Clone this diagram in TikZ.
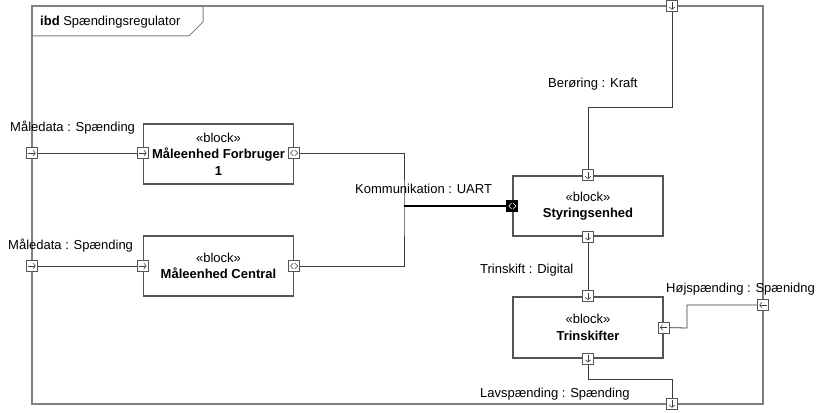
\documentclass[tikz,border=0pt]{standalone}
\usepackage{fontspec}
\setmainfont{Liberation Sans}
\usetikzlibrary{arrows.meta,positioning}
\definecolor{framegray}{HTML}{808080}
\definecolor{linegray}{HTML}{3C3C3C}
\definecolor{boxgray}{HTML}{555555}

\tikzset{
  block/.style={draw=boxgray, line width=1.3pt, fill=white, minimum width=150pt,
    minimum height=60pt, align=center, inner sep=0pt},
  portbox/.style={draw=boxgray, line width=0.8pt, fill=white, minimum size=11pt,
    inner sep=0pt},
  portright/.style={portbox, path picture={\draw[linegray, line width=0.6pt,
    -{Straight Barb[length=2.2pt,width=5.5pt]}]
    ([xshift=1.8pt]path picture bounding box.west) --
    ([xshift=-1.8pt]path picture bounding box.east);}},
  portleft/.style={portbox, path picture={\draw[linegray, line width=0.6pt,
    -{Straight Barb[length=2.2pt,width=5.5pt]}]
    ([xshift=-1.8pt]path picture bounding box.east) --
    ([xshift=1.8pt]path picture bounding box.west);}},
  portdown/.style={portbox, path picture={\draw[linegray, line width=0.6pt,
    -{Straight Barb[length=2.2pt,width=5.5pt]}]
    ([yshift=-1.8pt]path picture bounding box.north) --
    ([yshift=1.8pt]path picture bounding box.south);}},
  portboth/.style={portbox, path picture={\draw[#1, line width=0.6pt]
    ([shift={(-0.8pt,2.8pt)}]path picture bounding box.center) -- ++(-2.8pt,-2.8pt) -- ++(2.8pt,-2.8pt)
    ([shift={(0.8pt,2.8pt)}]path picture bounding box.center) -- ++(2.8pt,-2.8pt) -- ++(-2.8pt,-2.8pt);}},
  portboth/.default=linegray,
  conn/.style={draw=linegray, line width=0.8pt},
  lbl/.style={anchor=base west, inner sep=0pt}
}

\begin{document}
\begin{tikzpicture}[x=1pt,y=-1pt,font=\fontsize{13}{16.5}\selectfont]
\useasboundingbox (0,0) rectangle (824,412);
% frame and its tab
\draw[framegray, line width=1.3pt] (32,6) rectangle (763,404);
\draw[framegray, line width=1pt] (32,36) -- (189,36) -- (203,22) -- (203,6);
\node[lbl] (title) at (40,26) {\textbf{ibd} Spændingsregulator};

% blocks
\node[block] (forbruger) at (218.5,154) {«block»\\\textbf{Måleenhed Forbruger}\\\textbf{1}};
\node[block] (central) at (218.5,266) {«block»\\\textbf{Måleenhed Central}};
\node[block] (styring) at (588,206) {«block»\\\textbf{Styringsenhed}};
\node[block, minimum height=61pt] (trin) at (588,327.5) {«block»\\\textbf{Trinskifter}};

% ports on the frame
\node[portright] (pin1) at (32,153) {};
\node[portright] (pin2) at (32,266) {};
\node[portdown] (ptop) at (672,6) {};
\node[portleft] (pright) at (763,305) {};
\node[portdown] (pbot) at (672,404) {};

% ports on the blocks
\node[portright] (fin) at (forbruger.west |- pin1) {};
\node[portboth] (fout) at (forbruger.east |- pin1) {};
\node[portright] (cin) at (central.west) {};
\node[portboth] (cout) at (central.east) {};
\node[portboth=white, fill=black, draw=black] (sin) at (styring.west) {};
\node[portdown] (stop) at (styring.north) {};
\node[portdown] (sbot) at (styring.south) {};
\node[portdown] (ttop) at (trin.north) {};
\node[portdown] (tbot) at (trin.south) {};
\node[portleft] (tright) at (trin.east) {};

% bends
\coordinate (bus) at (404,206);
\coordinate (kbend) at (672,107);
\coordinate (hbend) at (687,328);
\coordinate (lbend) at (672,379);

% connectors
\draw[conn] (pin1) -- (fin);
\draw[conn] (pin2) -- (cin);
\draw[conn] (fout) -| (bus) |- (cout);
\draw[draw=black, line width=1.6pt] (bus) -- (sin);
\draw[conn] (ptop) -- (kbend) -| (stop);
\draw[conn] (sbot) -- (ttop);
\draw[conn] (pright) -| (hbend) -- (tright);
\draw[conn] (tbot) |- (lbend) -- (pbot);

% redraw ports on top of the lines
\foreach \p/\s in {pin1/portright, pin2/portright, fin/portright, cin/portright,
  ptop/portdown, pbot/portdown, stop/portdown, sbot/portdown, ttop/portdown,
  tbot/portdown, pright/portleft, tright/portleft, fout/portboth, cout/portboth}
  \node[\s] at (\p) {};
\node[portboth=white, fill=black, draw=black] at (sin) {};

% labels
\node[lbl] (m1) at (10,131) {Måledata : Spænding};
\node[lbl] (m2) at (8,249) {Måledata : Spænding};
\node[lbl] (komm) at (355,193) {Kommunikation : UART};
\node[lbl] (ber) at (548,88) {Berøring : Kraft};
\node[lbl] (trinsk) at (480,273) {Trinskift : Digital};
\node[lbl] (hoej) at (666,292) {Højspænding : Spænidng};
\node[lbl] (lav) at (480,397) {Lavspænding : Spænding};
\end{tikzpicture}
\end{document}
